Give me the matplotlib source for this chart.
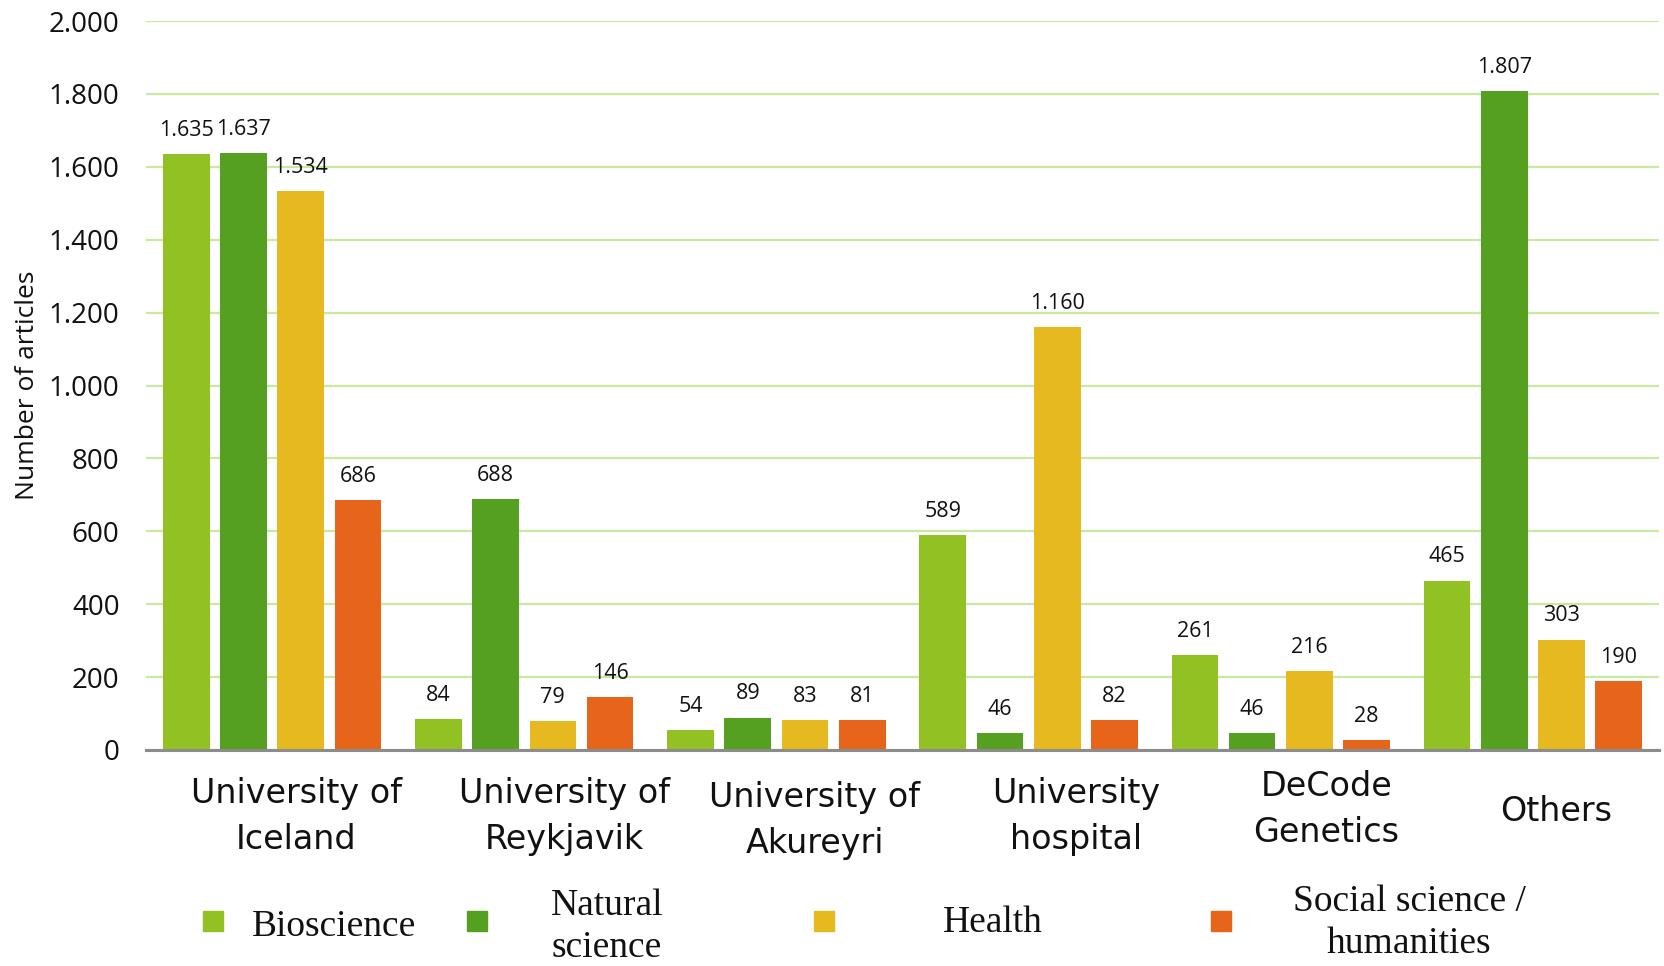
import matplotlib
matplotlib.use("Agg")
import matplotlib.pyplot as plt
import numpy as np
from matplotlib.patches import Rectangle
from matplotlib.transforms import blended_transform_factory, offset_copy

categories = ["University of\nIceland", "University of\nReykjavik", "University of\nAkureyri",
              "University\nhospital", "DeCode\nGenetics", "Others"]
series_names = ["Bioscience", "Natural\nscience", "Health", "Social science /\nhumanities"]
bioscience = [1635, 84, 54, 589, 261, 465]
natural_science = [1637, 688, 89, 46, 46, 1807]
health = [1534, 79, 83, 1160, 216, 303]
social_science = [686, 146, 81, 82, 28, 190]
yticks = [0, 200, 400, 600, 800, 1000, 1200, 1400, 1600, 1800, 2000]

colors = ["#92c123", "#55a021", "#e6b920", "#e6651a"]
series = [bioscience, natural_science, health, social_science]

# label placement (style): x shift in group units, y drop in px below axis
label_dx = [0.095, 0.16, 0.153, 0.188, 0.181, 0.094]
label_dy = [66.5, 66.5, 70, 67, 59.5, 61.5]

def fmt(v):
    return f"{v:,}".replace(",", ".")

W, H = 1664, 966
fig = plt.figure(figsize=(W / 100, H / 100), dpi=100)
ax = fig.add_axes([146 / W, 1 - 750 / H, (1659 - 146) / W, (750 - 21) / H])

x = np.arange(len(categories))
pitch = 0.227
width = 0.185
for k, (vals, c) in enumerate(zip(series, colors)):
    pos = x + (k - 1.5) * pitch
    bars = ax.bar(pos, vals, width=width, color=c, zorder=3)
    for b, v in zip(bars, vals):
        ax.annotate(fmt(v), (b.get_x() + b.get_width() / 2, v), xytext=(0, 17),
                    textcoords="offset points", ha="center", va="center",
                    fontsize=15.5, family="Open Sans", color="#111111", zorder=4)

ax.set_xlim(-0.5, len(categories) - 0.5)
ax.set_ylim(0, 2000)
ax.set_yticks(yticks)
ax.set_yticklabels([fmt(v) for v in yticks], fontsize=20, family="Open Sans", color="#111111")
ax.tick_params(axis="y", length=0, pad=19)
ax.tick_params(axis="x", length=0, labelbottom=False)
ax.yaxis.grid(True, color="#c6eaa0", linewidth=1.6, zorder=0)
ax.set_axisbelow(True)
for s in ["top", "right", "left"]:
    ax.spines[s].set_visible(False)
ax.spines["bottom"].set_color("#8c8c8c")
ax.spines["bottom"].set_linewidth(2.2)
ax.spines["bottom"].set_zorder(5)

# category labels
base = blended_transform_factory(ax.transData, ax.transAxes)
for i, lab in enumerate(categories):
    tr = offset_copy(base, fig=fig, x=0, y=-label_dy[i] * 0.72, units="points")
    ax.text(i + label_dx[i], 0, lab, transform=tr, ha="center", va="center",
            multialignment="center", fontsize=24, family="DejaVu Sans",
            linespacing=1.5, color="#111111")

fig.text(27 / W, 1 - 385 / H, "Number of articles", rotation=90, ha="center", va="center",
         fontsize=19, family="Open Sans", color="#111111")

# legend
sq_x = [203, 467, 814, 1211]
txt_x = [334, 607, 993, 1409]
txt_y = [927, 927, 923, 923]
for sx, tx, ty, name, c in zip(sq_x, txt_x, txt_y, series_names, colors):
    fig.add_artist(Rectangle((sx / W, 1 - 931 / H), 20 / W, 20 / H, color=c,
                             transform=fig.transFigure))
    fig.text(tx / W, 1 - ty / H, name, ha="center", va="center", multialignment="center",
             fontsize=27, family="Liberation Serif", linespacing=1.3, color="#111111")

fig.savefig("out.png", dpi=100)
